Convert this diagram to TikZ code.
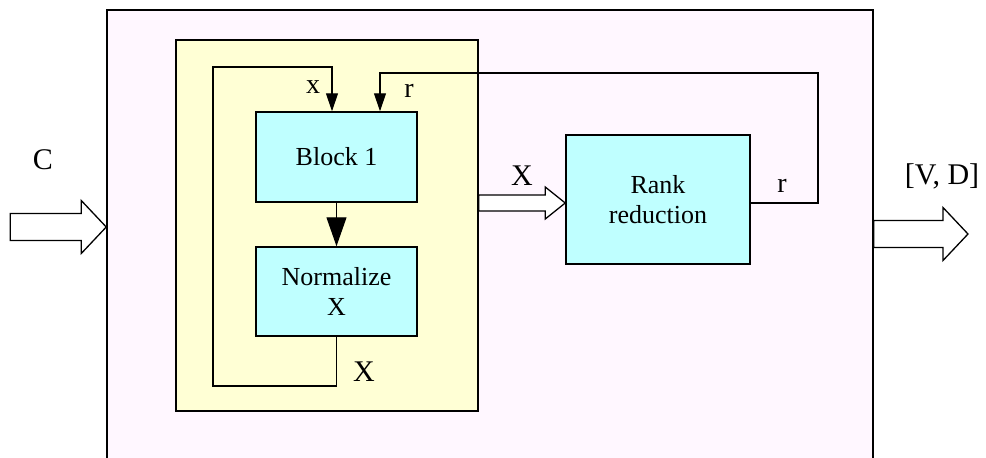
\documentclass[tikz,border=0pt]{standalone}
\usepackage{fontspec}
\setmainfont{Liberation Serif}
\usetikzlibrary{arrows.meta,calc}
\definecolor{outerfill}{HTML}{FFF7FF}
\definecolor{innerfill}{HTML}{FFFFD5}
\definecolor{boxfill}{HTML}{BFFFFF}
\tikzset{
  panel/.style={draw=black,line width=1.5pt,inner sep=0pt},
  stagebox/.style={draw=black,line width=1.5pt,fill=boxfill,inner sep=0pt,
    align=center,font=\rmfamily\fontsize{26}{30}\selectfont},
  flow/.style={draw=black,line width=1.2pt,-{Triangle[length=18pt,width=12pt]}},
  bigflow/.style={draw=black,line width=1.2pt,-{Triangle[length=29pt,width=20pt]}},
  hollow/.style={draw=black,line width=1.3pt,fill=white,line join=miter},
  biglabel/.style={font=\rmfamily\fontsize{30}{32}\selectfont,inner sep=0pt},
  smalllabel/.style={font=\rmfamily\fontsize{28}{30}\selectfont,inner sep=0pt},
}
\begin{document}
\begin{tikzpicture}[x=1pt,y=-1pt]
  \useasboundingbox (0,0) rectangle (986,458);
  \clip (0,0) rectangle (986,458);

  % outer processing block (runs past the lower edge)
  \node[panel,fill=outerfill,minimum width=766pt,minimum height=470pt] (outer) at (490,245) {};
  % iteration block
  \node[panel,fill=innerfill,minimum width=302pt,minimum height=371pt] (iter) at (327,225.5) {};

  % stages
  \node[stagebox,minimum width=161pt,minimum height=90pt] (blk) at (336.5,157) {Block 1};
  \node[stagebox,minimum width=161pt,minimum height=89pt] (norm) at (336.5,291.5) {Normalize\\X};
  \node[stagebox,minimum width=184pt,minimum height=129pt] (rank) at (658,199.5) {Rank\\reduction};

  % block 1 -> normalize
  \draw[bigflow] (blk.south) -- (norm.north);

  % feedback of normalized X into block 1
  \coordinate (loopbl) at (213,386);
  \coordinate (looptl) at (213,67);
  \coordinate (xin) at ([xshift=-4.5pt]blk.north);
  \draw[flow] (norm.south) -- (norm.south |- loopbl) -- (loopbl) -- (looptl) -- (looptl -| xin) -- (xin);

  % rank r fed back into block 1
  \coordinate (rtr) at (818,73);
  \coordinate (rin) at ([xshift=43.5pt]blk.north);
  \coordinate (rout) at ([yshift=-3.5pt]rank.east);
  \draw[flow] (rout) -- (rout -| rtr) -- (rtr) -- (rtr -| rin) -- (rin);

  % hollow block arrows
  \coordinate (cin) at (outer.west |- 0,227);
  \draw[hollow] (cin) -- ++(-25,-26.5) -- ++(0,13) -- ++(-71,0) -- ++(0,27) -- ++(71,0) -- ++(0,13) -- cycle;

  \coordinate (xtip) at ([yshift=-3.5pt]rank.west);
  \draw[hollow] (xtip) -- ++(-20,-16) -- ++(0,8) -- (iter.east |- 0,195) -- (iter.east |- 0,211) -- ([xshift=-20pt]xtip |- 0,211) -- ++(0,8) -- cycle;

  \coordinate (vdtip) at (968,234);
  \draw[hollow] (vdtip) -- ++(-25,-26.5) -- ++(0,13) -- (outer.east |- 0,220.5) -- (outer.east |- 0,247.5) -- (943,247.5) -- ++(0,13) -- cycle;

  % labels
  \node[biglabel] (lc) at (43,160) {C};
  \node[biglabel] (lx) at (522,176) {X};
  \node[biglabel] (lvd) at (942,176) {[V, D]};
  \node[biglabel] (lxb) at (364,372) {X};
  \node[smalllabel] (lxs) at (313,87) {x};
  \node[smalllabel] (lr) at (409,91) {r};
  \node[smalllabel] (lr2) at (782,186) {r};
\end{tikzpicture}
\end{document}
